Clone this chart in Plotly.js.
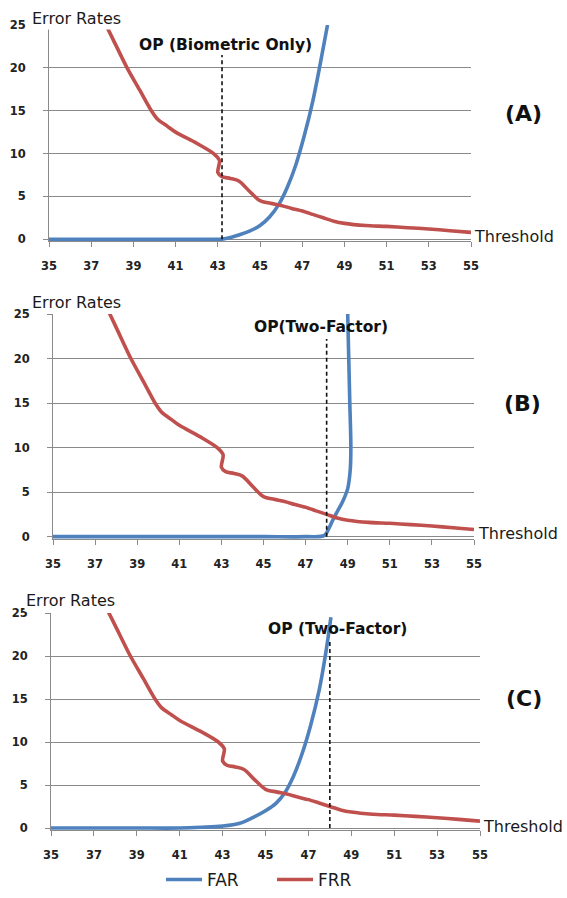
<!DOCTYPE html>
<html>
<head>
<meta charset="utf-8">
<script src="https://cdn.plot.ly/plotly-3.0.1.min.js"></script>
<style>html,body{margin:0;padding:0;background:#fff;}#chart{width:567px;height:898px;}</style>
</head>
<body>
<div id="chart"></div>
<script>
// ---- data ----
const thresholdTicks = [35, 37, 39, 41, 43, 45, 47, 49, 51, 53, 55];
const errorTicks = [0, 5, 10, 15, 20, 25];

// FRR (same in all three panels)
const frrX = [37.4, 38, 38.7, 39.3, 39.85, 40.15, 40.6, 41, 42, 42.8, 43.08, 43.0, 43.2, 43.6, 44, 44.5, 45, 45.5, 46, 46.5, 47, 47.5, 48, 48.5, 49, 50, 51, 52, 53, 54, 55];
const frrY = [26.5, 23.5, 20, 17.4, 15, 14, 13.2, 12.5, 11.2, 10.0, 9.2, 7.8, 7.3, 7.1, 6.8, 5.6, 4.5, 4.2, 3.95, 3.6, 3.3, 2.9, 2.5, 2.1, 1.85, 1.6, 1.5, 1.35, 1.2, 1.0, 0.8];

// FAR (A) biometric only
const farAX = [35, 37, 39, 41, 42.6, 43.2, 43.6, 44, 44.5, 45, 45.45, 45.9, 46.3, 46.7, 47.1, 47.5, 47.85, 48.2];
const farAY = [0, 0, 0, 0, 0, 0.02, 0.2, 0.5, 0.95, 1.6, 2.6, 4.1, 6.1, 8.7, 12.1, 16.1, 20.4, 25];
// FAR (B) two-factor
const farBX = [35, 37, 39, 41, 43, 45, 47, 47.9, 48.1, 48.3, 48.5, 48.75, 49.0, 49.12, 49.15, 49.1, 49.05, 49.0];
const farBY = [0, 0, 0, 0, 0, 0, 0, 0.15, 0.9, 1.9, 2.8, 3.9, 5.4, 7.5, 10, 15, 20, 25];
// FAR (C) two-factor
const farCX = [35, 37, 39, 41, 42, 43, 43.8, 44.4, 45, 45.5, 45.9, 46.3, 46.7, 47.1, 47.5, 47.8, 48.05];
const farCY = [0, 0, 0, 0, 0.08, 0.22, 0.55, 1.2, 2.0, 2.9, 4.1, 6.0, 8.6, 11.9, 16.0, 20.2, 24.5];

const opThreshold = [43.2, 48, 48];
const opTop = [21.5, 22.2, 21.9];
const opLabels = ["OP (Biometric Only)", "OP(Two-Factor)", "OP (Two-Factor)"];
const panelLabels = ["(A)", "(B)", "(C)"];
const seriesNames = ["FAR", "FRR"];
const yLabel = "Error Rates";
const xLabel = "Threshold";

// ---- layout helpers (pixel -> paper) ----
const W = 567, H = 898;
const px = v => v / W;
const py = v => 1 - v / H;

const BLUE = "#4F81BD", RED = "#C0504D", GRID = "#8a8a8a";
const FONT = "DejaVu Sans";

const panels = [
  {xd: [49, 471], yd: [241.4, 25], farX: farAX, farY: farAY,
   title: [225, 45], tag: [523, 114], ylab: [30, 19], xlab: [472, 237]},
  {xd: [53, 474], yd: [538.9, 314], farX: farBX, farY: farBY,
   title: [321, 327], tag: [522, 403], ylab: [30, 302], xlab: [476, 533]},
  {xd: [51, 480], yd: [830.15, 613], farX: farCX, farY: farCY,
   title: [337, 629], tag: [524, 698], ylab: [24, 600], xlab: [481, 826]}
];

const traces = [];
const layout = {
  width: W, height: H,
  margin: {l: 0, r: 0, t: 0, b: 0},
  paper_bgcolor: "#fff", plot_bgcolor: "#fff",
  font: {family: FONT, color: "#1a1a1a"},
  showlegend: true,
  legend: {orientation: "h", x: px(161), xanchor: "left", y: 0, yanchor: "bottom",
           font: {family: FONT, size: 17, color: "#1a1a1a"}, itemwidth: 36, entrywidth: 60,
           tracegroupgap: 0, bgcolor: "rgba(0,0,0,0)"},
  annotations: [], shapes: []
};

panels.forEach((p, i) => {
  const n = i === 0 ? "" : String(i + 1);
  const xa = "x" + n, ya = "y" + n;
  traces.push({x: p.farX, y: p.farY, xaxis: xa, yaxis: ya, type: "scatter", mode: "lines",
    name: seriesNames[0], legendgroup: "far", showlegend: i === 0,
    line: {color: BLUE, width: 3.6, shape: "spline", smoothing: 1}, hoverinfo: "skip"});
  traces.push({x: frrX, y: frrY, xaxis: xa, yaxis: ya, type: "scatter", mode: "lines",
    name: seriesNames[1], legendgroup: "frr", showlegend: i === 0,
    line: {color: RED, width: 3.6, shape: "spline", smoothing: 0.8}, hoverinfo: "skip"});

  layout["xaxis" + n] = {
    domain: [px(p.xd[0]), px(p.xd[1])], anchor: ya, range: [35, 55],
    tickmode: "array", tickvals: thresholdTicks, ticktext: thresholdTicks.map(v => "<b>" + v + "</b>"),
    showgrid: false, zeroline: false, showline: true, linecolor: GRID, linewidth: 1,
    ticks: "outside", ticklen: 5, tickcolor: GRID, ticklabelstandoff: 9,
    tickfont: {family: FONT, size: 11.5, color: "#222"}, fixedrange: true
  };
  layout["yaxis" + n] = {
    domain: [py(p.yd[0]), py(p.yd[1])], anchor: xa, range: [-0.25, 25],
    tickmode: "array", tickvals: errorTicks, ticktext: errorTicks.map(v => "<b>" + v + "</b>"),
    showgrid: true, gridcolor: GRID, gridwidth: 1, zeroline: false,
    showline: true, linecolor: GRID, linewidth: 1,
    ticks: "outside", ticklen: 5, tickcolor: GRID, ticklabelstandoff: 15,
    tickfont: {family: FONT, size: 11.5, color: "#222"}, fixedrange: true
  };

  layout.shapes.push({type: "line", xref: xa, yref: ya, x0: opThreshold[i], x1: opThreshold[i],
    y0: 0, y1: opTop[i], line: {color: "#111", width: 1.6, dash: "4px,3px"}});

  layout.annotations.push(
    {xref: "paper", yref: "paper", x: px(p.title[0]), y: py(p.title[1]), xanchor: "center", yanchor: "middle",
     text: "<b>" + opLabels[i] + "</b>", showarrow: false, font: {family: FONT, size: 15.5, color: "#111"}},
    {xref: "paper", yref: "paper", x: px(p.tag[0]), y: py(p.tag[1]), xanchor: "center", yanchor: "middle",
     text: "<b>" + panelLabels[i] + "</b>", showarrow: false, font: {family: FONT, size: 22, color: "#111"}},
    {xref: "paper", yref: "paper", x: px(p.ylab[0]), y: py(p.ylab[1]), xanchor: "left", yanchor: "middle",
     text: yLabel, showarrow: false, bgcolor: "#fff", borderpad: 1,
     font: {family: FONT, size: 16, color: "#1a1a1a"}},
    {xref: "paper", yref: "paper", x: px(p.xlab[0]), y: py(p.xlab[1]), xanchor: "left", yanchor: "middle",
     text: xLabel, showarrow: false, font: {family: FONT, size: 16, color: "#1a1a1a"}}
  );
});

Plotly.newPlot("chart", traces, layout, {staticPlot: true, displayModeBar: false});
</script>
</body>
</html>
